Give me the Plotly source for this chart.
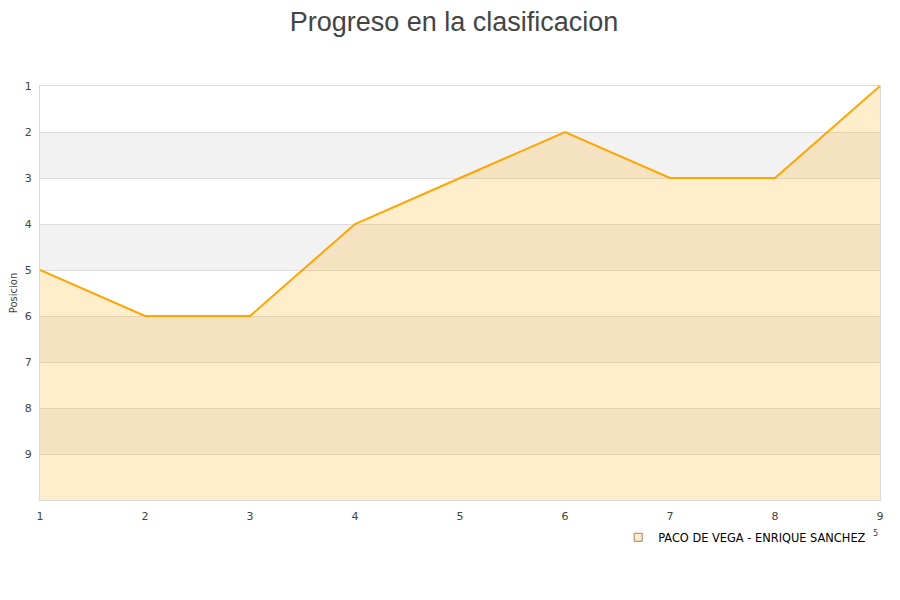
import plotly.graph_objects as go

jornadas = [1, 2, 3, 4, 5, 6, 7, 8, 9]
posicion = [5, 6, 6, 4, 3, 2, 3, 3, 1]
pareja = "PACO DE VEGA - ENRIQUE SANCHEZ"
y_ticks = [1, 2, 3, 4, 5, 6, 7, 8, 9]
x_ticks = [1, 2, 3, 4, 5, 6, 7, 8, 9]
y_min, y_max = 1, 10

fig = go.Figure()

# baseline at the bottom of the axis for the area fill
fig.add_trace(go.Scatter(x=jornadas, y=[y_max] * len(jornadas), mode="lines",
                         line=dict(width=0), showlegend=False, hoverinfo="skip"))
fig.add_trace(go.Scatter(x=jornadas, y=posicion, mode="lines", fill="tonexty",
                         fillcolor="rgba(255,165,0,0.2)",
                         line=dict(color="#FFA500", width=2), showlegend=False))
# legend entry
fig.add_trace(go.Scatter(x=[None], y=[None], mode="markers", name=pareja,
                         marker=dict(symbol="square", size=8, color="#FFECCB",
                                     line=dict(color="#9A8466", width=1))))

shapes = []
for k in range(y_min, y_max):
    if k % 2 == 0:
        shapes.append(dict(type="rect", xref="paper", yref="y", x0=0, x1=1,
                           y0=k, y1=k + 1, fillcolor="#F2F2F2", line=dict(width=0),
                           layer="below"))

fig.update_layout(
    width=892, height=592,
    margin=dict(l=32, r=20, t=78, b=100, autoexpand=False),
    paper_bgcolor="white", plot_bgcolor="white",
    title=dict(text="Progreso en la clasificacion", x=0.5, xanchor="center",
               y=0.977, yanchor="middle",
               font=dict(family="Liberation Sans, Arial", size=27, color="#444444")),
    font=dict(family="DejaVu Sans", size=11, color="#444444"),
    shapes=shapes,
    showlegend=True,
    legend=dict(x=0.9895, xanchor="right", y=-0.09, yanchor="middle",
                orientation="h", font=dict(family="DejaVu Sans", size=11.4, color="#000000"),
                bgcolor="rgba(0,0,0,0)", itemwidth=30),
    annotations=[dict(text="5", x=1.0, y=-0.097, xref="paper", yref="paper",
                      showarrow=False, font=dict(size=8, color="#444444"))],
)
fig.update_xaxes(range=[1, 9], tickvals=x_ticks, showgrid=False, zeroline=False,
                 showline=True, linecolor="#D9D9D9", linewidth=1, mirror=True, automargin=False,
                 ticks="", ticklabelstandoff=6, tickfont=dict(size=11, color="#444444"))
fig.update_yaxes(range=[y_max, y_min], tickvals=y_ticks, showgrid=True,
                 gridcolor="#DDDDDD", gridwidth=1, zeroline=False, automargin=False,
                 showline=True, linecolor="#D9D9D9", linewidth=1, mirror=True,
                 ticks="", ticklabelstandoff=5, tickfont=dict(size=11, color="#444444"),
                 title=dict(text="Posicion", font=dict(size=10, color="#444444"), standoff=7))

fig.write_html("out.html")
